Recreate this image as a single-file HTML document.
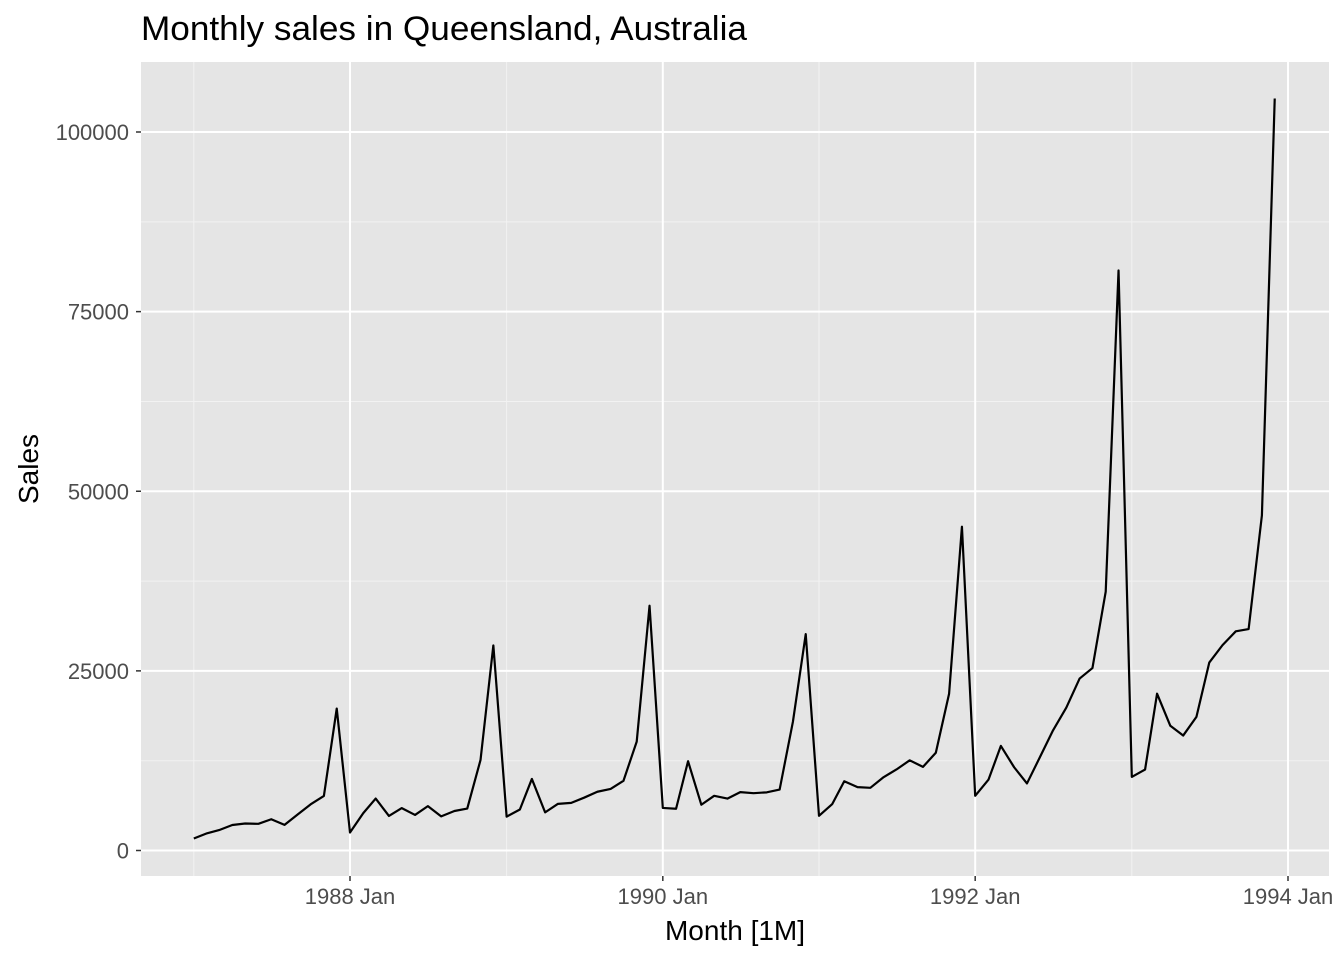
<!DOCTYPE html>
<html><head><meta charset="utf-8"><style>
body{margin:0;background:#fff;}
svg text{font-family:"Liberation Sans",Arial,sans-serif;}
</style></head><body>
<svg id="chart" width="1344" height="960" xmlns="http://www.w3.org/2000/svg">
<rect width="1344" height="960" fill="#fff"/>
<text x="141" y="40" font-size="34" fill="#000" textLength="606" lengthAdjust="spacingAndGlyphs">Monthly sales in Queensland, Australia</text>
<rect x="141" y="62" width="1188" height="814" fill="#e5e5e5"/>
<g id="grid"></g>
<g id="series"></g>
<g id="axes"></g>
<text x="735" y="940" font-size="28" text-anchor="middle" fill="#000">Month [1M]</text>
<text transform="translate(38,469) rotate(-90)" font-size="28" text-anchor="middle" fill="#000">Sales</text>
</svg>
<script>
const years=[1987,1988,1989,1990,1991,1992,1993];
const sales=[
1664.81,2397.53,2840.71,3547.29,3752.96,3714.74,4349.61,3566.34,5021.82,6423.48,7600.60,19756.21,
2499.81,5198.24,7225.14,4806.03,5900.88,4951.34,6179.12,4752.15,5496.43,5835.10,12600.08,28541.72,
4717.02,5702.63,9957.58,5304.78,6492.43,6630.80,7349.62,8176.62,8573.17,9690.50,15151.84,34061.01,
5921.10,5814.58,12421.25,6369.77,7609.12,7224.75,8121.22,7979.25,8093.06,8476.70,17914.66,30114.41,
4826.64,6470.23,9638.77,8821.17,8722.37,10209.48,11276.55,12552.22,11637.39,13606.89,21822.11,45060.69,
7615.03,9849.69,14558.40,11587.33,9332.56,13082.09,16732.78,19888.61,23933.38,25391.35,36024.80,80721.71,
10243.24,11266.88,21826.84,17357.33,15997.79,18601.53,26155.15,28586.52,30505.41,30821.33,46634.38,104660.67];
const yTicks=[0,25000,50000,75000,100000];
const yMinor=[12500,37500,62500,87500];
const xTickYears=[1988,1990,1992,1994];
const xMinorYears=[1987,1989,1991,1993];

const NS="http://www.w3.org/2000/svg";
const d1=Date.UTC(1988,0,1), d2=Date.UTC(1994,0,1);
const pxPerDay=(1288-350)/((d2-d1)/864e5);
function xs(t){return 350+((t-d1)/864e5)*pxPerDay;}
function ys(v){return 850.5-(v/100000)*(850.5-132);}
function mk(tag,attrs,parent){const e=document.createElementNS(NS,tag);for(const k in attrs)e.setAttribute(k,attrs[k]);parent.appendChild(e);return e;}
const grid=document.getElementById('grid'),axes=document.getElementById('axes'),ser=document.getElementById('series');
yMinor.forEach(v=>{const l=mk('line',{x1:141,x2:1329,y1:ys(v),y2:ys(v),stroke:'#f2f2f2','stroke-width':1},grid);

});
xMinorYears.forEach(y=>{const x=xs(Date.UTC(y,0,1));const l=mk('line',{x1:x,x2:x,y1:62,y2:876,stroke:'#f2f2f2','stroke-width':1},grid);

});
yTicks.forEach(v=>{const y=ys(v);const l=mk('line',{x1:141,x2:1329,y1:y,y2:y,stroke:'#fff','stroke-width':2},grid);


const tk=mk('line',{x1:136,x2:141,y1:y,y2:y,stroke:'#333','stroke-width':1.5},axes);


const t=mk('text',{x:129,y:y+8,'font-size':22,'text-anchor':'end',fill:'#4d4d4d'},axes);t.textContent=v;

});
xTickYears.forEach(yr=>{const x=xs(Date.UTC(yr,0,1));const l=mk('line',{x1:x,x2:x,y1:62,y2:876,stroke:'#fff','stroke-width':2},grid);


const tk=mk('line',{x1:x,x2:x,y1:876,y2:881,stroke:'#333','stroke-width':1.5},axes);


const t=mk('text',{x:x,y:904,'font-size':22,'text-anchor':'middle',fill:'#4d4d4d'},axes);t.textContent=yr+' Jan';

});
let pts=sales.map((v,i)=>{const yr=years[0]+Math.floor(i/12),m=i%12;return xs(Date.UTC(yr,m,1)).toFixed(2)+','+ys(v).toFixed(2);});
const pl=mk('polyline',{points:pts.join(' '),fill:'none',stroke:'#000','stroke-width':2.2,'stroke-linejoin':'round'},ser);


</script>
</body></html>
